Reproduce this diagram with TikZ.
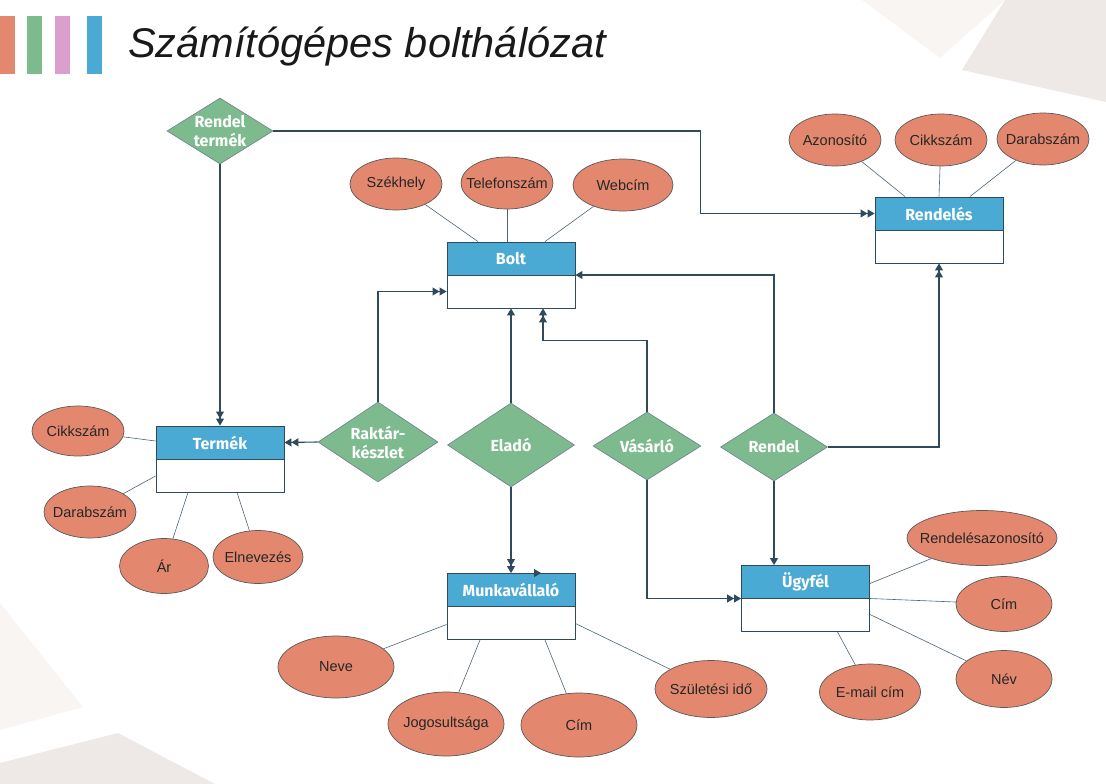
\documentclass[tikz,border=0pt]{standalone}
\usepackage{fontspec}
\setmainfont{Liberation Sans}
\newfontfamily\boxfont{Fira Sans}
\usetikzlibrary{shapes.geometric,arrows.meta,calc}

\definecolor{entblue}{HTML}{4BAAD3}
\definecolor{relgreen}{HTML}{7DBB8E}
\definecolor{attrred}{HTML}{E3886F}
\definecolor{linkcol}{HTML}{2E4A5C}
\definecolor{barpink}{HTML}{DC9ECC}
\definecolor{bggrey}{HTML}{EEE9E7}
\definecolor{bgfaint}{HTML}{F8F5F3}

\tikzset{
  entbox/.style={draw=linkcol, fill=white, line width=0.9pt, minimum width=128pt, minimum height=66pt, inner sep=0pt},
  enthead/.style={draw=linkcol, fill=entblue, line width=0.9pt, minimum width=128pt, minimum height=33pt, anchor=north, text=white, font=\boxfont\bfseries\fontsize{16}{18}\selectfont},
  rel/.style={diamond, draw=linkcol!70, fill=relgreen, line width=0.6pt, inner sep=0pt, aspect=1.6, text=white, align=center, font=\boxfont\bfseries\fontsize{16}{19}\selectfont},
  attr/.style={ellipse, draw=black!65, fill=attrred, line width=0.7pt, inner xsep=-12pt, inner ysep=0pt, minimum width=92pt, minimum height=52pt, font=\fontsize{14.5}{17}\selectfont, text=black!85},
  attrline/.style={draw=linkcol!85, line width=0.6pt},
  onehead/.style={draw=linkcol, line width=1.1pt, -{Triangle[length=7pt,width=8pt]}},
  twohead/.style={draw=linkcol, line width=1.1pt, -{Triangle[length=7pt,width=8pt] Triangle[length=7pt,width=8pt]}},
}

\begin{document}
\begin{tikzpicture}[x=1pt,y=-1pt]
\useasboundingbox (0,0) rectangle (1106,784);
% background corners
\fill[bgfaint] (862,0) -- (1005,0) -- (940,58) -- cycle;
\fill[bggrey] (1005,0) -- (1106,0) -- (1106,102) -- (962,70) -- cycle;
\fill[bgfaint] (0,603) -- (83,707) -- (0,730) -- cycle;
\fill[bggrey] (0,763) -- (118,733) -- (215,784) -- (0,784) -- cycle;

% title
\foreach \x/\c in {0/attrred, 27/relgreen, 55/barpink, 87/entblue}
  \fill[\c] (\x,16) rectangle ++(15,58);
\node[anchor=base west, inner sep=0pt, font=\itshape\fontsize{41.5}{48}\selectfont, text=black!90] (title) at (128,58) {Számítógépes bolthálózat};

% entities
\node[entbox] (bolt) at (511,275) {};
\node[enthead] (bolt-h) at (bolt.north) {Bolt};
\node[entbox] (rendeles) at (939,230) {};
\node[enthead] (rendeles-h) at (rendeles.north) {Rendelés};
\node[entbox] (termek) at (220,459) {};
\node[enthead] (termek-h) at (termek.north) {Termék};
\node[entbox] (munka) at (511,606.5) {};
\node[enthead] (munka-h) at (munka.north) {Munkavállaló};
\node[entbox] (ugyfel) at (805.5,598.5) {};
\node[enthead] (ugyfel-h) at (ugyfel.north) {Ügyfél};

% relations
\node[rel, minimum width=106pt, minimum height=66pt] (rendterm) at (220,131) {Rendel\\termék};
\node[rel, minimum width=120pt, minimum height=80pt] (raktar) at (378,442) {Raktár-\\készlet};
\node[rel, minimum width=127pt, minimum height=84pt] (elado) at (511,445) {Eladó};
\node[rel, minimum width=108pt, minimum height=68pt] (vasarlo) at (647,446) {Vásárló};
\node[rel, minimum width=107pt, minimum height=68pt] (rendel) at (774,447) {Rendel};

% attributes
\node[attr] (szekhely) at (396,184) {Székhely};
\node[attr] (telefon) at (507,183) {Telefonszám};
\node[attr, minimum width=100pt] (webcim) at (623,185) {Webcím};
\node[attr] (azon) at (835,140) {Azonosító};
\node[attr] (cikk1) at (941,140) {Cikkszám};
\node[attr] (darab1) at (1043,139) {Darabszám};
\node[attr, minimum height=50pt] (cikk2) at (78,431) {Cikkszám};
\node[attr] (darab2) at (90,512) {Darabszám};
\node[attr, minimum width=89pt, minimum height=55pt] (ar) at (164,566) {Ár};
\node[attr, minimum width=90pt, minimum height=53pt] (elnev) at (258,557) {Elnevezés};
\node[attr, minimum width=116pt, minimum height=62pt] (neve) at (336,667) {Neve};
\node[attr, minimum width=116pt, minimum height=64pt] (jog) at (446,724) {Jogosultsága};
\node[attr, minimum width=116pt, minimum height=64pt] (cim1) at (579,725) {Cím};
\node[attr, minimum width=112pt, minimum height=57pt] (szul) at (711,689) {Születési idő};
\node[attr, minimum width=150pt, minimum height=55pt] (rendaz) at (982,538) {Rendelésazonosító};
\node[attr, minimum width=96pt, minimum height=55pt] (cim2) at (1004,604) {Cím};
\node[attr, minimum width=96pt, minimum height=57pt] (nev2) at (1004,679) {Név};
\node[attr, minimum width=101pt, minimum height=56pt] (email) at (870,692) {E-mail cím};

% attribute lines
\draw[attrline] (szekhely) -- ([xshift=-33pt]bolt.north);
\draw[attrline] (telefon) -- ([xshift=-4pt]bolt.north);
\draw[attrline] (webcim) -- ([xshift=34pt]bolt.north);
\draw[attrline] (azon) -- ([xshift=-34pt]rendeles.north);
\draw[attrline] (cikk1) -- (rendeles.north);
\draw[attrline] (darab1) -- ([xshift=31pt]rendeles.north);
\draw[attrline] (cikk2) -- ([yshift=18pt]termek.west);
\draw[attrline] (darab2) -- ([yshift=-17pt]termek.west);
\draw[attrline] (ar) -- ([xshift=-32pt]termek.south);
\draw[attrline] (elnev) -- ([xshift=17pt]termek.south);
\draw[attrline] (neve) -- ([yshift=-18pt]munka.west);
\draw[attrline] (jog) -- ([xshift=-31pt]munka.south);
\draw[attrline] (cim1) -- ([xshift=34pt]munka.south);
\draw[attrline] (szul) -- ([yshift=-17pt]munka.east);
\draw[attrline] (rendaz) -- ([yshift=15pt]ugyfel.east);
\draw[attrline] (cim2) -- (ugyfel.east);
\draw[attrline] (nev2) -- ([yshift=-16pt]ugyfel.east);
\draw[attrline] (email) -- ([xshift=32pt]ugyfel.south);

% connectors
\draw[twohead] (rendterm.east) -- ++(427,0) |- (rendeles-h.west);
\draw[twohead] (rendterm.south) -- (termek.north);
\draw[twohead] (raktar.west) -- (termek-h.east);
\draw[twohead] (raktar.north) |- ([yshift=-16.5pt]bolt.west);
\draw[onehead] (elado.north) -- (bolt.south);
\draw[twohead] (elado.south) -- (munka.north);
\draw[onehead, line width=0.8pt] ([xshift=18pt]munka.north) -- ([xshift=30pt]munka.north);
\draw[twohead] (vasarlo.north) -- ++(0,-71) -| ([xshift=32pt]bolt.south);
\draw[twohead] (vasarlo.south) |- (ugyfel.west);
\draw[onehead] (rendel.north) |- (bolt.east);
\draw[twohead] (rendel.east) -| (rendeles.south);
\draw[onehead] (rendel.south) -- (rendel.south |- ugyfel.north);
\end{tikzpicture}
\end{document}
